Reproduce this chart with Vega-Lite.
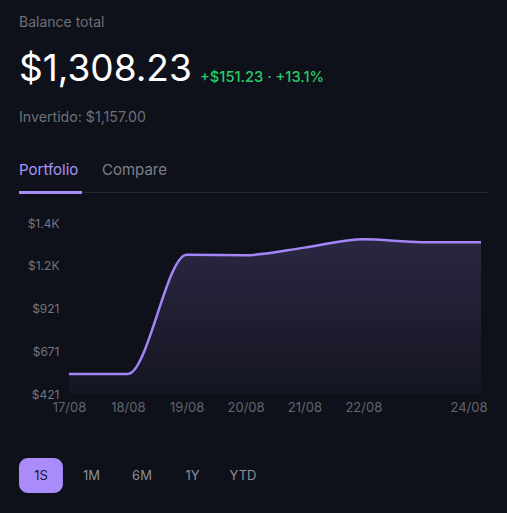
{
  "$schema": "https://vega.github.io/schema/vega-lite/v6.json",
  "background": "#0f111a",
  "padding": {"left": 17, "right": 19, "top": 0, "bottom": 20},
  "bounds": "flush",
  "spacing": 64,
  "config": {"view": {"stroke": null}, "font": "Inter", "axis": {"labelFont": "Inter"}},
  "vconcat": [
    {
      "width": 469,
      "height": 159,
      "data": {"values": [
        {"label": "Balance total", "role": "caption"},
        {"label": "$1,308.23", "role": "balance"},
        {"label": "+$151.23 · +13.1%", "role": "change"},
        {"label": "Invertido: $1,157.00", "role": "invested"},
        {"label": "Portfolio", "role": "tabActive"},
        {"label": "Compare", "role": "tab"}
      ]},
      "layer": [
        {
          "transform": [{"filter": "datum.role == 'tabActive'"}],
          "mark": {"type": "rule", "color": "#24262f", "strokeWidth": 1},
          "encoding": {
            "x": {"datum": 63, "type": "quantitative", "scale": {"domain": [0, 469], "nice": false, "zero": false}, "axis": null},
            "x2": {"datum": 469},
            "y": {"datum": 192.5, "type": "quantitative", "scale": {"domain": [0, 159], "nice": false, "zero": false, "reverse": true}, "axis": null}
          }
        },
        {
          "transform": [{"filter": "datum.role == 'tabActive'"}],
          "mark": {"type": "rule", "color": "#a78bfa", "strokeWidth": 3},
          "encoding": {
            "x": {"datum": 0, "type": "quantitative"},
            "x2": {"datum": 63},
            "y": {"datum": 192.5, "type": "quantitative"}
          }
        },
        {
          "transform": [{"filter": "datum.role == 'caption'"}],
          "mark": {"type": "text", "align": "left", "baseline": "alphabetic", "fontSize": 14, "color": "#6d7079"},
          "encoding": {
            "text": {"field": "label"},
            "x": {"datum": 0, "type": "quantitative"},
            "y": {"datum": 27, "type": "quantitative"}
          }
        },
        {
          "transform": [{"filter": "datum.role == 'balance'"}],
          "mark": {"type": "text", "align": "left", "baseline": "alphabetic", "fontSize": 37, "color": "#ffffff"},
          "encoding": {
            "text": {"field": "label"},
            "x": {"datum": 0, "type": "quantitative"},
            "y": {"datum": 81, "type": "quantitative"}
          }
        },
        {
          "transform": [{"filter": "datum.role == 'change'"}],
          "mark": {"type": "text", "align": "left", "baseline": "alphabetic", "fontSize": 14.7, "fontWeight": 500, "color": "#25cc68"},
          "encoding": {
            "text": {"field": "label"},
            "x": {"datum": 181, "type": "quantitative"},
            "y": {"datum": 82, "type": "quantitative"}
          }
        },
        {
          "transform": [{"filter": "datum.role == 'invested'"}],
          "mark": {"type": "text", "align": "left", "baseline": "alphabetic", "fontSize": 14.2, "color": "#6d7079"},
          "encoding": {
            "text": {"field": "label"},
            "x": {"datum": 0, "type": "quantitative"},
            "y": {"datum": 122, "type": "quantitative"}
          }
        },
        {
          "transform": [{"filter": "datum.role == 'tabActive'"}],
          "mark": {"type": "text", "align": "left", "baseline": "alphabetic", "fontSize": 15, "color": "#a993fb"},
          "encoding": {
            "text": {"field": "label"},
            "x": {"datum": 0, "type": "quantitative"},
            "y": {"datum": 175, "type": "quantitative"}
          }
        },
        {
          "transform": [{"filter": "datum.role == 'tab'"}],
          "mark": {"type": "text", "align": "left", "baseline": "alphabetic", "fontSize": 15, "color": "#7c7f88"},
          "encoding": {
            "text": {"field": "label"},
            "x": {"datum": 83, "type": "quantitative"},
            "y": {"datum": 175, "type": "quantitative"}
          }
        }
      ]
    },
    {
      "width": 462,
      "height": 171,
      "data": {"values": [
        {"date": "2024-08-17T00:00:00", "value": 538},
        {"date": "2024-08-18T00:00:00", "value": 538},
        {"date": "2024-08-19T00:00:00", "value": 1236},
        {"date": "2024-08-20T00:00:00", "value": 1233},
        {"date": "2024-08-21T00:00:00", "value": 1277},
        {"date": "2024-08-22T00:00:00", "value": 1326},
        {"date": "2024-08-23T00:00:00", "value": 1309},
        {"date": "2024-08-24T00:00:00", "value": 1308.23}
      ]},
      "encoding": {
        "x": {
          "field": "date",
          "type": "temporal",
          "scale": {"nice": false, "range": [50, 462]},
          "axis": {
            "values": [
              {"year": 2024, "month": 8, "date": 17},
              {"year": 2024, "month": 8, "date": 18},
              {"year": 2024, "month": 8, "date": 19},
              {"year": 2024, "month": 8, "date": 20},
              {"year": 2024, "month": 8, "date": 21},
              {"year": 2024, "month": 8, "date": 22},
              {"year": 2024, "month": 8, "date": 24}
            ],
            "format": "%d/%m",
            "title": null,
            "domain": false,
            "ticks": false,
            "grid": false,
            "labelFlush": false,
            "labelOverlap": false,
            "labelColor": "#62656e",
            "labelFontSize": 13,
            "labelPadding": 7,
            "labelAlign": {"condition": {"test": "datum.label == '24/08'", "value": "right"}, "value": "center"},
            "labelOffset": {"condition": {"test": "datum.label == '24/08'", "value": 6}, "value": 0}
          }
        },
        "y": {
          "field": "value",
          "type": "quantitative",
          "scale": {"domain": [421, 1421], "nice": false, "zero": false},
          "axis": {
            "values": [421, 671, 921, 1171, 1421],
            "labelExpr": "datum.value >= 1000 ? '$' + format(datum.value / 1000, '.1f') + 'K' : '$' + format(datum.value, 'd')",
            "title": null,
            "offset": -50,
            "domain": false,
            "ticks": false,
            "grid": false,
            "labelColor": "#72757e",
            "labelFontSize": 12,
            "labelPadding": 10
          }
        }
      },
      "layer": [
        {
          "mark": {
            "type": "area",
            "interpolate": "monotone",
            "fill": {
              "gradient": "linear",
              "x1": 0, "y1": 0, "x2": 0, "y2": 1,
              "stops": [
                {"offset": 0, "color": "rgba(167,139,250,0.18)"},
                {"offset": 1, "color": "rgba(167,139,250,0.03)"}
              ]
            }
          },
          "encoding": {"y2": {"datum": 421}}
        },
        {
          "mark": {"type": "line", "interpolate": "monotone", "color": "#a385f7", "strokeWidth": 2.5}
        }
      ]
    },
    {
      "width": 246,
      "height": 35,
      "data": {"values": [
        {"range": "1S", "active": true},
        {"range": "1M", "active": false},
        {"range": "6M", "active": false},
        {"range": "1Y", "active": false},
        {"range": "YTD", "active": false}
      ]},
      "encoding": {
        "x": {"field": "range", "type": "nominal", "sort": null, "axis": null, "scale": {"paddingInner": 0.13, "paddingOuter": 0}}
      },
      "layer": [
        {
          "transform": [{"filter": "datum.active"}],
          "mark": {"type": "bar", "cornerRadius": 9, "color": "#a98bfa"}
        },
        {
          "mark": {"type": "text", "fontSize": 13},
          "encoding": {
            "text": {"field": "range"},
            "color": {"condition": {"test": "datum.active", "value": "#1e1633"}, "value": "#8b8e98"}
          }
        }
      ]
    }
  ]
}
